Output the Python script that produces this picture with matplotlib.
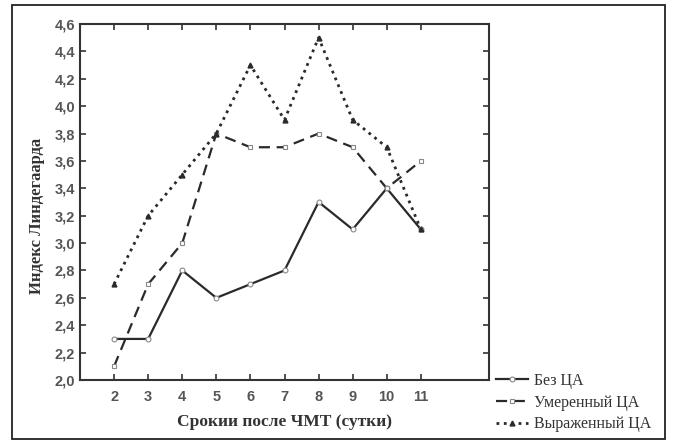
import matplotlib.pyplot as plt
from matplotlib.patches import Rectangle
import numpy as np

# days after TBI and Lindegaard index per group
days = [2, 3, 4, 5, 6, 7, 8, 9, 10, 11]
no_va = [2.3, 2.3, 2.8, 2.6, 2.7, 2.8, 3.3, 3.1, 3.4, 3.1]
moderate_va = [2.1, 2.7, 3.0, 3.8, 3.7, 3.7, 3.8, 3.7, 3.4, 3.6]
severe_va = [2.7, 3.2, 3.5, 3.8, 4.3, 3.9, 4.5, 3.9, 3.7, 3.1]
labels = ['Без ЦА', 'Умеренный ЦА', 'Выраженный ЦА']
y_ticks = np.arange(2.0, 4.61, 0.2)

W, H = 675, 444
fig = plt.figure(figsize=(W / 100, H / 100), dpi=100)
fig.patch.set_facecolor('white')

# outer frame around whole picture
fig.patches.append(Rectangle((12 / W, 1 - 439 / H), 653 / W, 434 / H,
                             transform=fig.transFigure, fill=False,
                             edgecolor='#222222', linewidth=1.3))

ax = fig.add_axes([80 / W, 1 - 380 / H, 409 / W, 356 / H])
lc = '#2a2a2a'
ax.plot(days, no_va, '-', color=lc, lw=1.6, marker='o', ms=3.5,
        mfc='white', mec='#888888', mew=0.8, label=labels[0])
ax.plot(days, moderate_va, '--', color=lc, lw=1.6, dashes=(5, 3), marker='s', ms=3.5,
        mfc='white', mec='#888888', mew=0.8, label=labels[1])
ax.plot(days, severe_va, ':', color=lc, lw=2.0, marker='^', ms=3.5,
        mfc=lc, mec=lc, label=labels[2])

ax.set_xlim(1, 13)
ax.set_ylim(2.0, 4.6)
ax.set_xticks(days)
ax.set_yticks(y_ticks)
ax.set_yticklabels([f'{v:.1f}'.replace('.', ',') for v in y_ticks])

for s in ax.spines.values():
    s.set_linewidth(1.5)
    s.set_color('#333333')
ax.tick_params(direction='in', length=4, width=1.2, top=True, right=True,
               color='#333333', labelcolor='#555555')
for t in ax.get_xticklabels() + ax.get_yticklabels():
    t.set_family('Liberation Sans')
    t.set_fontweight('bold')
    t.set_fontsize(10.5)
ax.tick_params(axis='x', pad=7)

ax.set_xlabel('Срокии после ЧМТ (сутки)', family='Liberation Serif',
              fontweight='bold', fontsize=12.5, color='#333333', labelpad=0)
ax.xaxis.set_label_coords(0.5, -0.095)
ax.set_ylabel('Индекс Линдегаарда', family='Liberation Serif',
              fontweight='bold', fontsize=12, color='#333333')
ax.yaxis.set_label_coords(-0.085, 0.46)

fig.legend(loc='upper left', bbox_to_anchor=(496 / W, 1 - 373 / H),
           frameon=False, borderpad=0, borderaxespad=0, handlelength=2.0,
           handletextpad=0.4, labelspacing=0.35,
           prop={'family': 'Liberation Serif', 'size': 11.5}, labelcolor='#333333')

plt.savefig('out.png', dpi=100)
